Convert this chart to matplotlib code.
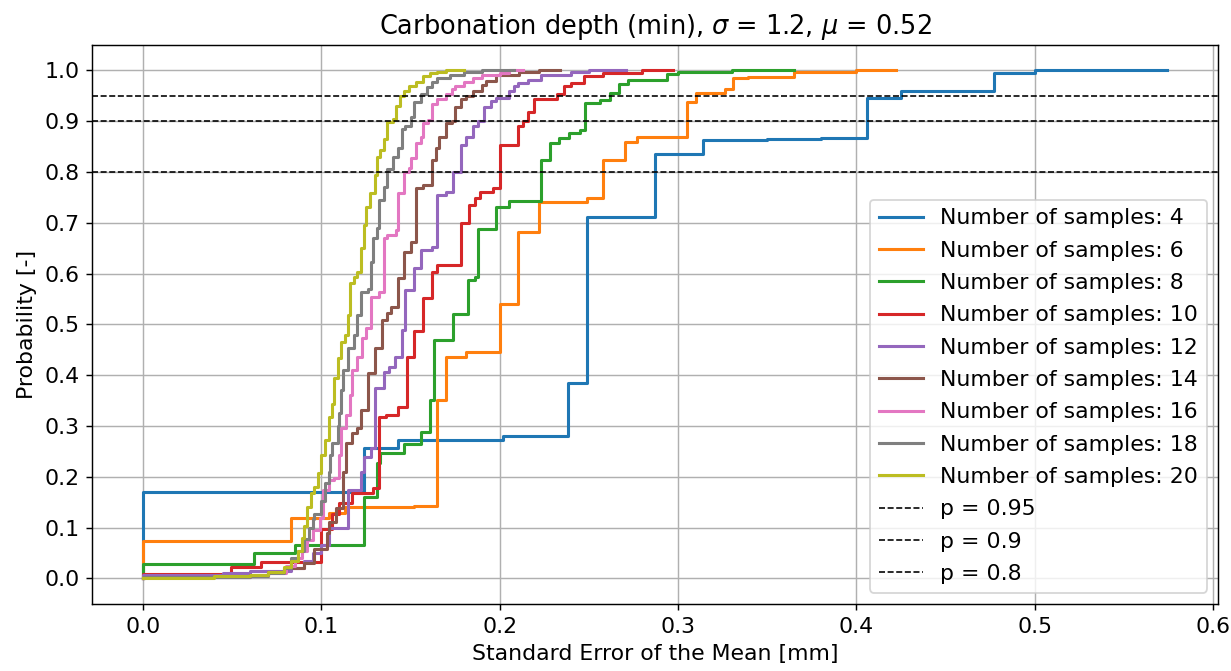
import numpy as np
import matplotlib
matplotlib.use("Agg")
import matplotlib.pyplot as plt
import matplotlib.ticker as tck

# (standard error [mm], cumulative probability) step points
n_samples = [4, 6, 8, 10, 12, 14, 16, 18, 20]

cdf_n4 = [(0, 0), (0, 0.17), (0.124, 0.256), (0.143, 0.272), (0.202, 0.28), (0.238, 0.385),
          (0.249, 0.712), (0.287, 0.836), (0.314, 0.862), (0.35, 0.864), (0.38, 0.867),
          (0.406, 0.946), (0.425, 0.96), (0.477, 0.995), (0.50, 1.0), (0.574, 1.0)]
cdf_n6 = [(0, 0), (0, 0.073), (0.083, 0.12), (0.104, 0.128), (0.113, 0.14), (0.152, 0.143),
          (0.165, 0.351), (0.170, 0.436), (0.181, 0.446), (0.200, 0.54), (0.210, 0.682),
          (0.222, 0.74), (0.249, 0.748), (0.258, 0.823), (0.270, 0.86), (0.277, 0.868),
          (0.305, 0.937), (0.310, 0.955), (0.326, 0.964), (0.331, 0.984), (0.339, 0.987),
          (0.365, 0.996), (0.40, 1.0), (0.422, 1.0)]
cdf_n8 = [(0, 0), (0, 0.028), (0.062, 0.051), (0.085, 0.065), (0.124, 0.16), (0.131, 0.227),
          (0.133, 0.247), (0.146, 0.264), (0.156, 0.288), (0.161, 0.351), (0.163, 0.469),
          (0.174, 0.52), (0.182, 0.588), (0.186, 0.594), (0.188, 0.688), (0.198, 0.732),
          (0.205, 0.742), (0.223, 0.824), (0.228, 0.858), (0.233, 0.866), (0.239, 0.876),
          (0.245, 0.882), (0.248, 0.935), (0.256, 0.942), (0.262, 0.955), (0.267, 0.974),
          (0.272, 0.982), (0.294, 0.992), (0.30, 0.997), (0.33, 1.0), (0.365, 1.0)]
cdf_n10 = [(0, 0), (0, 0.008), (0.049, 0.022), (0.066, 0.033), (0.1, 0.097), (0.106, 0.126),
           (0.11, 0.148), (0.117, 0.168), (0.129, 0.178), (0.132, 0.318), (0.136, 0.322),
           (0.143, 0.337), (0.148, 0.436), (0.152, 0.487), (0.157, 0.552), (0.162, 0.604),
           (0.165, 0.617), (0.178, 0.70), (0.183, 0.736), (0.186, 0.749), (0.189, 0.761),
           (0.196, 0.769), (0.2, 0.854), (0.21, 0.89), (0.213, 0.9), (0.216, 0.918),
           (0.219, 0.943), (0.232, 0.953), (0.236, 0.969), (0.24, 0.975), (0.247, 0.988),
           (0.258, 0.994), (0.28, 1.0), (0.297, 1.0)]
cdf_n12 = [(0, 0), (0, 0.006), (0.045, 0.01), (0.06, 0.014), (0.083, 0.02), (0.09, 0.035),
           (0.095, 0.05), (0.1, 0.065), (0.104, 0.1), (0.115, 0.174), (0.122, 0.209),
           (0.124, 0.239), (0.128, 0.256), (0.13, 0.375), (0.135, 0.406), (0.138, 0.417),
           (0.141, 0.436), (0.145, 0.489), (0.147, 0.568), (0.152, 0.611), (0.156, 0.647),
           (0.162, 0.652), (0.165, 0.755), (0.17, 0.761), (0.174, 0.799), (0.178, 0.854),
           (0.181, 0.868), (0.185, 0.89), (0.188, 0.9), (0.191, 0.927), (0.195, 0.939),
           (0.198, 0.945), (0.205, 0.959), (0.208, 0.969), (0.21, 0.976), (0.216, 0.982),
           (0.223, 0.99), (0.24, 0.996), (0.25, 1.0), (0.271, 1.0)]
cdf_n14 = [(0, 0), (0, 0.003), (0.06, 0.006), (0.07, 0.012), (0.08, 0.02), (0.09, 0.03),
           (0.096, 0.059), (0.103, 0.089), (0.104, 0.112), (0.108, 0.138), (0.112, 0.209),
           (0.114, 0.266), (0.117, 0.286), (0.12, 0.296), (0.122, 0.331), (0.126, 0.404),
           (0.13, 0.454), (0.134, 0.509), (0.137, 0.522), (0.139, 0.535), (0.143, 0.591),
           (0.146, 0.643), (0.15, 0.663), (0.153, 0.769), (0.157, 0.775), (0.162, 0.824),
           (0.164, 0.848), (0.166, 0.868), (0.17, 0.897), (0.173, 0.9), (0.175, 0.927),
           (0.178, 0.943), (0.181, 0.95), (0.185, 0.959), (0.19, 0.972), (0.192, 0.98),
           (0.198, 0.99), (0.211, 0.996), (0.222, 1.0), (0.234, 1.0)]
cdf_n16 = [(0, 0), (0, 0.002), (0.06, 0.005), (0.07, 0.01), (0.08, 0.025), (0.085, 0.041),
           (0.089, 0.055), (0.092, 0.075), (0.095, 0.095), (0.099, 0.12), (0.101, 0.174),
           (0.104, 0.193), (0.107, 0.197), (0.11, 0.243), (0.111, 0.296), (0.114, 0.322),
           (0.116, 0.361), (0.117, 0.41), (0.12, 0.436), (0.123, 0.473), (0.125, 0.493),
           (0.128, 0.554), (0.132, 0.564), (0.135, 0.67), (0.137, 0.676), (0.142, 0.686),
           (0.143, 0.759), (0.146, 0.799), (0.149, 0.808), (0.15, 0.828), (0.153, 0.858),
           (0.156, 0.868), (0.157, 0.897), (0.16, 0.903), (0.162, 0.933), (0.165, 0.943),
           (0.17, 0.953), (0.173, 0.963), (0.175, 0.969), (0.18, 0.978), (0.185, 0.985),
           (0.19, 0.991), (0.2, 0.995), (0.205, 1.0), (0.213, 1.0)]
cdf_n18 = [(0, 0), (0, 0.002), (0.06, 0.005), (0.07, 0.01), (0.079, 0.02), (0.083, 0.04),
           (0.087, 0.055), (0.09, 0.077), (0.093, 0.1), (0.095, 0.117), (0.096, 0.127),
           (0.1, 0.153), (0.102, 0.187), (0.104, 0.209), (0.105, 0.243), (0.106, 0.266),
           (0.109, 0.3), (0.11, 0.325), (0.111, 0.37), (0.112, 0.41), (0.115, 0.454),
           (0.118, 0.479), (0.12, 0.519), (0.122, 0.564), (0.126, 0.57), (0.128, 0.623),
           (0.129, 0.67), (0.131, 0.69), (0.132, 0.745), (0.135, 0.771), (0.137, 0.805),
           (0.14, 0.83), (0.143, 0.848), (0.145, 0.884), (0.147, 0.89), (0.15, 0.909),
           (0.152, 0.937), (0.156, 0.953), (0.159, 0.967), (0.162, 0.978), (0.165, 0.985),
           (0.172, 0.991), (0.18, 0.996), (0.19, 1.0), (0.208, 1.0)]
cdf_n20 = [(0, 0), (0, 0.001), (0.04, 0.004), (0.06, 0.007), (0.07, 0.012), (0.079, 0.022),
           (0.083, 0.035), (0.087, 0.055), (0.089, 0.08), (0.09, 0.104), (0.092, 0.14),
           (0.094, 0.168), (0.096, 0.18), (0.098, 0.207), (0.1, 0.243), (0.102, 0.272),
           (0.104, 0.318), (0.106, 0.343), (0.107, 0.394), (0.109, 0.434), (0.111, 0.466),
           (0.113, 0.48), (0.115, 0.519), (0.116, 0.582), (0.118, 0.594), (0.12, 0.603),
           (0.122, 0.651), (0.124, 0.696), (0.125, 0.732), (0.127, 0.759), (0.13, 0.795),
           (0.131, 0.83), (0.133, 0.843), (0.135, 0.864), (0.137, 0.899), (0.14, 0.905),
           (0.142, 0.929), (0.144, 0.949), (0.146, 0.959), (0.149, 0.969), (0.153, 0.978),
           (0.157, 0.988), (0.161, 0.994), (0.165, 0.997), (0.17, 1.0), (0.18, 1.0)]

p_levels = [0.95, 0.9, 0.8]

cdfs = [cdf_n4, cdf_n6, cdf_n8, cdf_n10, cdf_n12, cdf_n14, cdf_n16, cdf_n18, cdf_n20]

plt.rcParams['font.size'] = 12.2

dpi = 130
fig = plt.figure(figsize=(1231 / dpi, 671 / dpi), dpi=dpi)
ax = fig.add_axes([0.0747, 0.100, 0.9147, 0.833])

for n, pts in zip(n_samples, cdfs):
    x, y = np.array(pts).T
    ax.step(x, y, where='post', lw=1.7, label='Number of samples: %d' % n)

for p in p_levels:
    ax.axhline(p, ls='--', color='black', lw=0.9, label='p = %s' % p)

ax.yaxis.set_major_locator(tck.MultipleLocator(0.1))
ax.grid(True)
ax.set_xlabel('Standard Error of the Mean [mm]')
ax.set_ylabel('Probability [-]')
ax.set_title(r'Carbonation depth (min), $\sigma$ = 1.2, $\mu$ = 0.52', fontsize=14.2)
ax.legend(loc='lower right', labelspacing=0.56)

fig.savefig('out.png', dpi=dpi)
